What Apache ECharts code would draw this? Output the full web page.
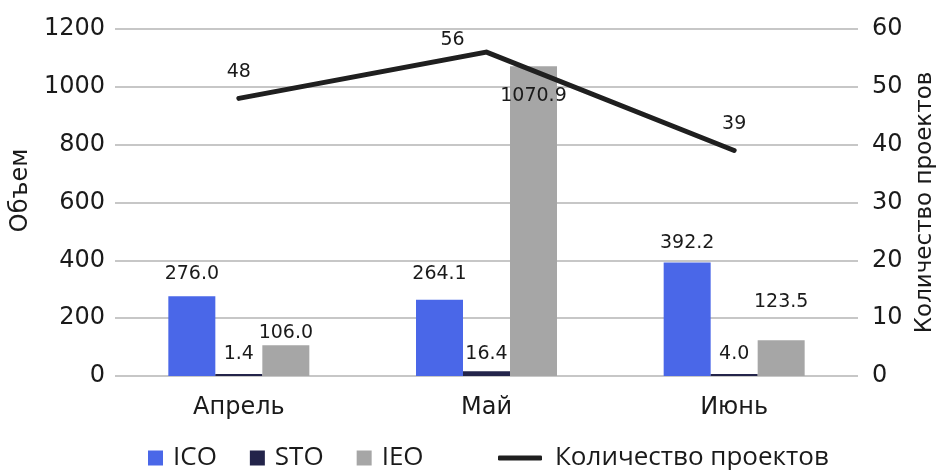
<!DOCTYPE html>
<html>
<head>
<meta charset="utf-8">
<script src="https://cdn.jsdelivr.net/npm/echarts@6/dist/echarts.min.js"></script>
<style>
  html, body { margin: 0; padding: 0; background: #fff; }
  #chart { width: 937px; height: 470px; }
</style>
</head>
<body>
<div id="chart"></div>
<script>
// data
const categories = ['Апрель', 'Май', 'Июнь']
const icoValues = [276.0, 264.1, 392.2]
const stoValues = [1.4, 16.4, 4.0]
const ieoValues = [106.0, 1070.9, 123.5]
const projectCounts = [48, 56, 39]

// label nudges (the source has hand-placed labels)
const icoLabelShift = [-3, -6, 0]
const stoLabelShift = [0, 2, 0]
const ieoLabelShift = [7, 0, -19]

const font = "'DejaVu Sans', sans-serif"
const legendFont = "'Open Sans', sans-serif"
const textColor = '#1a1a1a'

const barData = (values, shifts) =>
  values.map((v, i) => ({ value: v, label: { offset: [0, shifts[i]] } }))

const chart = echarts.init(document.getElementById('chart'))

const barLabel = {
  show: true,
  position: 'top',
  distance: 10,
  color: textColor,
  fontFamily: font,
  fontSize: 19,
  formatter: p => p.value.toFixed(1)
}

chart.setOption({
  animation: false,
  textStyle: { fontFamily: font, color: textColor },
  grid: { left: 115, right: 79, top: 29, bottom: 94, outerBoundsMode: 'none' },
  legend: [
    {
      data: ['ICO', 'STO', 'IEO'],
      left: 143,
      top: 440,
      icon: 'rect',
      itemWidth: 15,
      itemHeight: 15,
      itemGap: 33,
      textStyle: { fontFamily: legendFont, fontSize: 26, color: textColor, padding: [0, 0, 0, 5] }
    },
    {
      data: [{ name: 'Количество проектов', icon: 'roundRect' }],
      left: 493,
      top: 440,
      itemWidth: 44,
      itemHeight: 5,
      textStyle: { fontFamily: legendFont, fontSize: 26, color: textColor, padding: [0, 0, 0, 8] }
    }
  ],
  xAxis: {
    type: 'category',
    data: categories,
    axisLine: { show: false },
    axisTick: { show: false },
    axisLabel: { fontSize: 24, color: textColor, margin: 20, fontFamily: font }
  },
  yAxis: [
    {
      type: 'value',
      name: 'Объем',
      nameLocation: 'middle',
      nameRotate: 90,
      nameGap: 77,
      nameTextStyle: { fontSize: 24, color: textColor, fontFamily: font, padding: [0, 0, 0, 24] },
      min: 0,
      max: 1200,
      interval: 200,
      axisLine: { show: false },
      axisTick: { show: false },
      axisLabel: { fontSize: 24, color: textColor, margin: 10, fontFamily: font, formatter: v => String(v) },
      splitLine: { lineStyle: { color: '#b4b4b4', width: 1.5 } }
    },
    {
      type: 'value',
      name: 'Количество проектов',
      nameLocation: 'middle',
      nameRotate: 90,
      nameGap: 52,
      nameTextStyle: { fontSize: 23, color: textColor, fontFamily: font },
      min: 0,
      max: 60,
      interval: 10,
      axisLine: { show: false },
      axisTick: { show: false },
      axisLabel: { fontSize: 24, color: textColor, margin: 14, fontFamily: font },
      splitLine: { show: false }
    }
  ],
  series: [
    {
      name: 'ICO',
      type: 'bar',
      data: barData(icoValues, icoLabelShift),
      barWidth: 47,
      barGap: '0%',
      itemStyle: { color: '#4a67e8' },
      label: barLabel
    },
    {
      name: 'STO',
      type: 'bar',
      data: barData(stoValues, stoLabelShift),
      barWidth: 47,
      barGap: '0%',
      barMinHeight: 2,
      itemStyle: { color: '#23244a' },
      label: barLabel
    },
    {
      name: 'IEO',
      type: 'bar',
      data: ieoValues.map((v, i) => i === 1
        ? { value: v, label: { position: 'insideTop', distance: 20 } }
        : { value: v, label: { offset: [0, ieoLabelShift[i]] } }),
      barWidth: 47,
      barGap: '0%',
      itemStyle: { color: '#a6a6a6' },
      label: barLabel
    },
    {
      name: 'Количество проектов',
      type: 'line',
      yAxisIndex: 1,
      data: projectCounts.map((v, i) => i === 1
        ? { value: v, label: { offset: [-34, 14] } }
        : v),
      symbol: 'circle',
      symbolSize: 1,
      showSymbol: true,
      z: 5,
      lineStyle: { color: '#1f1f1f', width: 5, cap: 'round', join: 'miter' },
      itemStyle: { color: '#1f1f1f' },
      label: {
        show: true,
        position: 'top',
        distance: 16,
        fontSize: 19,
        color: textColor,
        fontFamily: font
      }
    }
  ]
})
</script>
</body>
</html>
